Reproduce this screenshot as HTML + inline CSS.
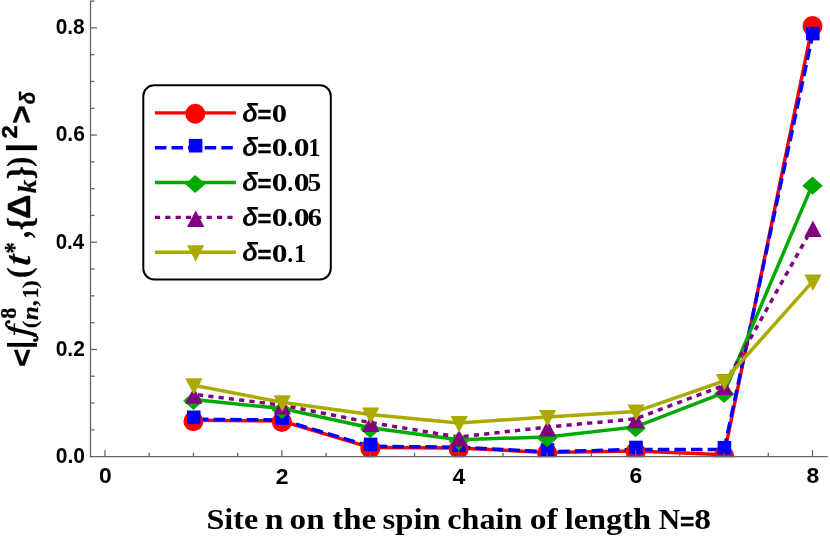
<!DOCTYPE html>
<html><head><meta charset="utf-8"><title>chart</title>
<style>
html,body{margin:0;padding:0;background:#fff;}
body{width:830px;height:542px;overflow:hidden;}
svg{display:block;will-change:transform;}
text{font-kerning:none;}
.sans{font-family:"Liberation Sans",sans-serif;font-weight:bold;}
.sansi{font-family:"Liberation Sans",sans-serif;font-weight:bold;font-style:italic;}
.serif{font-family:"Liberation Serif",serif;font-weight:bold;}
.si{font-family:"Liberation Serif",serif;font-weight:bold;font-style:italic;}
</style></head><body>
<svg width="830" height="542" viewBox="0 0 830 542">
<rect width="830" height="542" fill="#ffffff"/>
<defs><clipPath id="pc"><rect x="80" y="0" width="750" height="457.3"/></clipPath></defs>

<g clip-path="url(#pc)">
<polyline points="193.44,420.30 281.88,421.00 370.32,447.60 458.76,448.10 547.20,452.40 635.64,451.00 724.08,454.80 812.52,25.20" fill="none" stroke="#ff0000" stroke-width="3.5" stroke-linejoin="miter"/>
<polyline points="193.44,419.20 281.88,420.00 370.32,446.30 458.76,447.20 547.20,451.90 635.64,449.40 724.08,449.60 812.52,35.50" fill="none" stroke="#0000ff" stroke-width="3.5" stroke-linejoin="miter" stroke-dasharray="11.5 5.1" stroke-dashoffset="13.05"/>
<polyline points="193.44,399.50 281.88,408.60 370.32,427.80 458.76,439.80 547.20,436.90 635.64,426.90 724.08,392.60 812.52,184.40" fill="none" stroke="#00aa00" stroke-width="3.5" stroke-linejoin="miter"/>
<polyline points="193.44,394.30 281.88,405.10 370.32,422.60 458.76,437.00 547.20,427.10 635.64,418.80 724.08,385.40 812.52,227.50" fill="none" stroke="#800080" stroke-width="3.5" stroke-linejoin="miter" stroke-dasharray="5.2 5.15" stroke-dashoffset="5.75"/>
<polyline points="193.44,385.20 281.88,402.30 370.32,414.50 458.76,423.10 547.20,417.00 635.64,411.60 724.08,381.00 812.52,281.60" fill="none" stroke="#aaaa00" stroke-width="3.5" stroke-linejoin="miter"/>
<circle cx="193.44" cy="421.20" r="10.0" fill="#ff0000"/>
<circle cx="281.88" cy="421.90" r="10.0" fill="#ff0000"/>
<circle cx="370.32" cy="448.50" r="10.0" fill="#ff0000"/>
<circle cx="458.76" cy="449.00" r="10.0" fill="#ff0000"/>
<circle cx="547.20" cy="453.30" r="10.0" fill="#ff0000"/>
<circle cx="635.64" cy="451.90" r="10.0" fill="#ff0000"/>
<circle cx="724.08" cy="455.70" r="10.0" fill="#ff0000"/>
<circle cx="812.52" cy="26.10" r="10.0" fill="#ff0000"/>
<rect x="186.94" y="410.50" width="13.6" height="13.6" fill="#0000ff"/>
<rect x="275.38" y="411.30" width="13.6" height="13.6" fill="#0000ff"/>
<rect x="363.82" y="437.60" width="13.6" height="13.6" fill="#0000ff"/>
<rect x="452.26" y="438.50" width="13.6" height="13.6" fill="#0000ff"/>
<rect x="540.70" y="443.20" width="13.6" height="13.6" fill="#0000ff"/>
<rect x="629.14" y="440.70" width="13.6" height="13.6" fill="#0000ff"/>
<rect x="717.58" y="440.90" width="13.6" height="13.6" fill="#0000ff"/>
<rect x="806.02" y="26.80" width="13.6" height="13.6" fill="#0000ff"/>
<polygon points="183.19,400.80 193.44,391.70 203.69,400.80 193.44,409.90" fill="#00aa00"/>
<polygon points="271.63,409.90 281.88,400.80 292.13,409.90 281.88,419.00" fill="#00aa00"/>
<polygon points="360.07,429.10 370.32,420.00 380.57,429.10 370.32,438.20" fill="#00aa00"/>
<polygon points="448.51,441.10 458.76,432.00 469.01,441.10 458.76,450.20" fill="#00aa00"/>
<polygon points="536.95,438.20 547.20,429.10 557.45,438.20 547.20,447.30" fill="#00aa00"/>
<polygon points="625.39,428.20 635.64,419.10 645.89,428.20 635.64,437.30" fill="#00aa00"/>
<polygon points="713.83,393.90 724.08,384.80 734.33,393.90 724.08,403.00" fill="#00aa00"/>
<polygon points="802.27,185.70 812.52,176.60 822.77,185.70 812.52,194.80" fill="#00aa00"/>
<polygon points="185.19,403.80 193.84,387.30 202.49,403.80" fill="#800080"/>
<polygon points="273.63,414.60 282.28,398.10 290.93,414.60" fill="#800080"/>
<polygon points="362.07,432.10 370.72,415.60 379.37,432.10" fill="#800080"/>
<polygon points="450.51,446.50 459.16,430.00 467.81,446.50" fill="#800080"/>
<polygon points="538.95,436.60 547.60,420.10 556.25,436.60" fill="#800080"/>
<polygon points="627.39,428.30 636.04,411.80 644.69,428.30" fill="#800080"/>
<polygon points="715.83,394.90 724.48,378.40 733.13,394.90" fill="#800080"/>
<polygon points="804.27,237.00 812.92,220.50 821.57,237.00" fill="#800080"/>
<polygon points="185.19,378.20 193.84,394.70 202.49,378.20" fill="#aaaa00"/>
<polygon points="273.63,395.30 282.28,411.80 290.93,395.30" fill="#aaaa00"/>
<polygon points="362.07,407.50 370.72,424.00 379.37,407.50" fill="#aaaa00"/>
<polygon points="450.51,416.10 459.16,432.60 467.81,416.10" fill="#aaaa00"/>
<polygon points="538.95,410.00 547.60,426.50 556.25,410.00" fill="#aaaa00"/>
<polygon points="627.39,404.60 636.04,421.10 644.69,404.60" fill="#aaaa00"/>
<polygon points="715.83,374.00 724.48,390.50 733.13,374.00" fill="#aaaa00"/>
<polygon points="804.27,274.60 812.92,291.10 821.57,274.60" fill="#aaaa00"/>
</g>
<g stroke="#666666" stroke-width="1.3" fill="none">
<line x1="90.5" y1="0.8" x2="90.5" y2="457.25"/>
<line x1="89.9" y1="456.65" x2="827.8" y2="456.65"/>
<line x1="105.00" y1="456.65" x2="105.00" y2="450.15"/>
<line x1="149.22" y1="456.65" x2="149.22" y2="452.75"/>
<line x1="193.44" y1="456.65" x2="193.44" y2="452.75"/>
<line x1="237.66" y1="456.65" x2="237.66" y2="452.75"/>
<line x1="281.88" y1="456.65" x2="281.88" y2="450.15"/>
<line x1="326.10" y1="456.65" x2="326.10" y2="452.75"/>
<line x1="370.32" y1="456.65" x2="370.32" y2="452.75"/>
<line x1="414.54" y1="456.65" x2="414.54" y2="452.75"/>
<line x1="458.76" y1="456.65" x2="458.76" y2="450.15"/>
<line x1="502.98" y1="456.65" x2="502.98" y2="452.75"/>
<line x1="547.20" y1="456.65" x2="547.20" y2="452.75"/>
<line x1="591.42" y1="456.65" x2="591.42" y2="452.75"/>
<line x1="635.64" y1="456.65" x2="635.64" y2="450.15"/>
<line x1="679.86" y1="456.65" x2="679.86" y2="452.75"/>
<line x1="724.08" y1="456.65" x2="724.08" y2="452.75"/>
<line x1="768.30" y1="456.65" x2="768.30" y2="452.75"/>
<line x1="812.52" y1="456.65" x2="812.52" y2="450.15"/>
<line x1="90.5" y1="429.85" x2="94.5" y2="429.85"/>
<line x1="90.5" y1="403.05" x2="94.5" y2="403.05"/>
<line x1="90.5" y1="376.25" x2="94.5" y2="376.25"/>
<line x1="90.5" y1="349.45" x2="96.9" y2="349.45"/>
<line x1="90.5" y1="322.65" x2="94.5" y2="322.65"/>
<line x1="90.5" y1="295.85" x2="94.5" y2="295.85"/>
<line x1="90.5" y1="269.05" x2="94.5" y2="269.05"/>
<line x1="90.5" y1="242.25" x2="96.9" y2="242.25"/>
<line x1="90.5" y1="215.45" x2="94.5" y2="215.45"/>
<line x1="90.5" y1="188.65" x2="94.5" y2="188.65"/>
<line x1="90.5" y1="161.85" x2="94.5" y2="161.85"/>
<line x1="90.5" y1="135.05" x2="96.9" y2="135.05"/>
<line x1="90.5" y1="108.25" x2="94.5" y2="108.25"/>
<line x1="90.5" y1="81.45" x2="94.5" y2="81.45"/>
<line x1="90.5" y1="54.65" x2="94.5" y2="54.65"/>
<line x1="90.5" y1="27.85" x2="96.9" y2="27.85"/>
<line x1="90.5" y1="1.05" x2="94.5" y2="1.05"/>
</g>
<g fill="#000">
<text class="sans" font-size="100" transform="translate(98.95,483.39) scale(0.2290,0.2189)">0</text>
<text class="sans" font-size="100" transform="translate(275.87,483.60) scale(0.2290,0.2220)">2</text>
<text class="sans" font-size="100" transform="translate(452.58,483.60) scale(0.2290,0.2253)">4</text>
<text class="sans" font-size="100" transform="translate(629.57,483.39) scale(0.2290,0.2189)">6</text>
<text class="sans" font-size="100" transform="translate(806.44,483.39) scale(0.2290,0.2189)">8</text>
<text class="sans" font-size="100" transform="translate(55.67,462.99) scale(0.2108,0.2196)">0.0</text>
<text class="sans" font-size="100" transform="translate(55.67,355.79) scale(0.2106,0.2196)">0.2</text>
<text class="sans" font-size="100" transform="translate(55.69,248.59) scale(0.2052,0.2196)">0.4</text>
<text class="sans" font-size="100" transform="translate(55.67,141.39) scale(0.2100,0.2196)">0.6</text>
<text class="sans" font-size="100" transform="translate(55.67,34.19) scale(0.2091,0.2196)">0.8</text>
</g>
<text class="serif" font-size="100" transform="translate(206.49,528.60) scale(0.3206,0.3040)">Site</text>
<text class="serif" font-size="100" transform="translate(264.79,528.60) scale(0.3384,0.3040)">n</text>
<text class="serif" font-size="100" transform="translate(289.54,528.60) scale(0.3320,0.3040)">on</text>
<text class="serif" font-size="100" transform="translate(332.27,528.60) scale(0.3300,0.3040)">the</text>
<text class="serif" font-size="100" transform="translate(382.51,528.60) scale(0.3270,0.3040)">spin</text>
<text class="serif" font-size="100" transform="translate(447.30,528.60) scale(0.3217,0.3040)">chain</text>
<text class="serif" font-size="100" transform="translate(529.82,528.60) scale(0.3355,0.3040)">of</text>
<text class="serif" font-size="100" transform="translate(564.67,528.60) scale(0.3244,0.3040)">length</text>
<text class="serif" font-size="100" transform="translate(658.64,528.60) scale(0.2957,0.3040)">N</text>
<text class="serif" font-size="100" transform="translate(694.19,528.60) scale(0.3344,0.3040)">8</text>
<text class="sans" font-size="100" transform="translate(679.98,529.86) scale(0.2453,0.2434)" stroke="#000" stroke-width="1.2" stroke-linejoin="round">=</text>
<rect x="143.3" y="85.3" width="187.5" height="194.1" rx="10.8" ry="10.8" fill="#fff" stroke="#000" stroke-width="2.0"/>
<line x1="154.9" y1="112.9" x2="235.9" y2="112.9" stroke="#ff0000" stroke-width="3.4"/>
<circle cx="195.30" cy="113.80" r="10.0" fill="#ff0000"/>
<text class="sansi" font-size="100" transform="translate(242.20,121.96) scale(0.2598,0.2589)">δ</text>
<text class="sans" font-size="100" transform="translate(257.61,123.25) scale(0.2393,0.2355)" stroke="#000" stroke-width="1.5" stroke-linejoin="round">=</text>
<text class="serif" font-size="100" transform="translate(271.73,122.00) scale(0.3067,0.2520)">0</text>
<line x1="154.9" y1="147.7" x2="235.9" y2="147.7" stroke="#0000ff" stroke-width="3.4" stroke-dasharray="11.5 5.1"/>
<rect x="188.80" y="138.90" width="13.6" height="13.6" fill="#0000ff"/>
<text class="sansi" font-size="100" transform="translate(242.20,155.96) scale(0.2598,0.2589)">δ</text>
<text class="sans" font-size="100" transform="translate(257.61,157.25) scale(0.2393,0.2355)" stroke="#000" stroke-width="1.5" stroke-linejoin="round">=</text>
<text class="serif" font-size="100" transform="translate(271.70,156.00) scale(0.3162,0.2520)">0</text>
<text class="serif" font-size="100" transform="translate(287.37,156.00) scale(0.2344,0.2520)">.</text>
<text class="serif" font-size="100" transform="translate(293.70,156.00) scale(0.3162,0.2520)">0</text>
<text class="serif" font-size="100" transform="translate(308.14,156.00) scale(0.2445,0.2520)">1</text>
<line x1="154.9" y1="182.5" x2="235.9" y2="182.5" stroke="#00aa00" stroke-width="3.4"/>
<polygon points="185.05,184.00 195.30,174.90 205.55,184.00 195.30,193.10" fill="#00aa00"/>
<text class="sansi" font-size="100" transform="translate(242.20,190.96) scale(0.2598,0.2589)">δ</text>
<text class="sans" font-size="100" transform="translate(257.61,192.25) scale(0.2393,0.2355)" stroke="#000" stroke-width="1.5" stroke-linejoin="round">=</text>
<text class="serif" font-size="100" transform="translate(271.70,191.00) scale(0.3162,0.2520)">0</text>
<text class="serif" font-size="100" transform="translate(287.37,191.00) scale(0.2344,0.2520)">.</text>
<text class="serif" font-size="100" transform="translate(293.70,191.00) scale(0.3162,0.2520)">0</text>
<text class="serif" font-size="100" transform="translate(307.50,191.00) scale(0.2740,0.2520)">5</text>
<line x1="154.9" y1="217.4" x2="235.9" y2="217.4" stroke="#800080" stroke-width="3.4" stroke-dasharray="5.2 5.15"/>
<polygon points="187.05,226.90 195.70,210.40 204.35,226.90" fill="#800080"/>
<text class="sansi" font-size="100" transform="translate(242.20,225.56) scale(0.2598,0.2589)">δ</text>
<text class="sans" font-size="100" transform="translate(257.61,226.85) scale(0.2393,0.2355)" stroke="#000" stroke-width="1.5" stroke-linejoin="round">=</text>
<text class="serif" font-size="100" transform="translate(271.70,225.60) scale(0.3162,0.2520)">0</text>
<text class="serif" font-size="100" transform="translate(287.37,225.60) scale(0.2344,0.2520)">.</text>
<text class="serif" font-size="100" transform="translate(293.70,225.60) scale(0.3162,0.2520)">0</text>
<text class="serif" font-size="100" transform="translate(307.41,225.60) scale(0.2886,0.2520)">6</text>
<line x1="154.9" y1="252.2" x2="235.9" y2="252.2" stroke="#aaaa00" stroke-width="3.4"/>
<polygon points="187.05,245.20 195.70,261.70 204.35,245.20" fill="#aaaa00"/>
<text class="sansi" font-size="100" transform="translate(242.20,261.46) scale(0.2598,0.2589)">δ</text>
<text class="sans" font-size="100" transform="translate(257.61,262.75) scale(0.2393,0.2355)" stroke="#000" stroke-width="1.5" stroke-linejoin="round">=</text>
<text class="serif" font-size="100" transform="translate(271.70,261.50) scale(0.3162,0.2520)">0</text>
<text class="serif" font-size="100" transform="translate(287.37,261.50) scale(0.2344,0.2520)">.</text>
<text class="serif" font-size="100" transform="translate(294.04,261.50) scale(0.2445,0.2520)">1</text>
<g transform="translate(30,366) rotate(-90)" fill="#000">
<text class="sans" font-size="100" transform="translate(-0.80,1.82) scale(0.3091,0.2987)" stroke="#000" stroke-width="1.5" stroke-linejoin="round">&lt;</text>
<text class="sans" font-size="100" transform="translate(16.94,-0.35) scale(0.2970,0.3126)">|</text>
<text class="serif" font-size="100" transform="translate(47.26,-14.22) scale(0.2214,0.2267)" stroke="#000" stroke-width="1.0" stroke-linejoin="round">8</text>
<text class="serif" font-size="100" transform="translate(37.69,7.13) scale(0.2297,0.2195)">(</text>
<text class="si" font-size="100" transform="translate(45.68,7.50) scale(0.2527,0.2398)" stroke="#000" stroke-width="0.8" stroke-linejoin="round">n</text>
<text class="serif" font-size="100" transform="translate(59.77,7.35) scale(0.2466,0.2485)">,</text>
<text class="serif" font-size="100" transform="translate(67.44,7.50) scale(0.2200,0.2363)" stroke="#000" stroke-width="0.8" stroke-linejoin="round">1</text>
<text class="serif" font-size="100" transform="translate(77.48,7.13) scale(0.2531,0.2195)">)</text>
<text class="serif" font-size="100" transform="translate(87.65,-0.12) scale(0.3310,0.3298)">(</text>
<text class="si" font-size="100" transform="translate(99.85,0.14) scale(0.3747,0.3736) skewX(-6)">t</text>
<text class="serif" font-size="100" transform="translate(112.46,-6.77) scale(0.2254,0.2626)" stroke="#000" stroke-width="1" stroke-linejoin="round">*</text>
<text class="serif" font-size="100" transform="translate(128.03,-0.50) scale(0.2818,0.3877)">,</text>
<text class="serif" font-size="100" transform="translate(135.83,1.86) scale(0.3315,0.3540)" stroke="#000" stroke-width="1" stroke-linejoin="round">{</text>
<text class="sans" font-size="100" transform="translate(147.25,-0.30) scale(0.3343,0.3169)" stroke="#000" stroke-width="1.5" stroke-linejoin="round">Δ</text>
<text class="si" font-size="100" transform="translate(172.83,5.90) scale(0.2717,0.2580)" stroke="#000" stroke-width="1" stroke-linejoin="round">k</text>
<text class="serif" font-size="100" transform="translate(186.70,1.86) scale(0.3315,0.3540)" stroke="#000" stroke-width="1" stroke-linejoin="round">}</text>
<text class="serif" font-size="100" transform="translate(199.00,-0.12) scale(0.3115,0.3298)">)</text>
<text class="sans" font-size="100" transform="translate(212.94,0.25) scale(0.3752,0.3264)">|</text>
<text class="sans" font-size="100" transform="translate(227.58,-13.10) scale(0.2368,0.2291)" stroke="#000" stroke-width="2" stroke-linejoin="round">2</text>
<text class="sans" font-size="100" transform="translate(242.48,2.07) scale(0.3151,0.3061)" stroke="#000" stroke-width="1.5" stroke-linejoin="round">&gt;</text>
<text class="sansi" font-size="100" transform="translate(261.84,5.39) scale(0.2069,0.2248)" stroke="#000" stroke-width="1.5" stroke-linejoin="round">δ</text>
</g>
<g fill="none" stroke="#000" stroke-linecap="round" stroke-linejoin="round">
<path d="M8.6,321.6 C6.6,321.6 5.4,323.6 6.3,325.3 C7.4,327.3 10,328.3 14,329.5 L30,333.3 C34,334.3 37.3,335.8 37.5,338.2 C37.6,340.1 36.2,341.0 34.9,340.3" stroke-width="2.0"/>
<path d="M9.5,327.9 C11,328.7 12.5,329.1 14,329.5 L30,333.3 C32,333.8 33.8,334.4 35.2,335.2" stroke-width="3.7"/>
<path d="M14.4,323.4 L14.4,334.9" stroke-width="1.5" stroke-linecap="butt"/>
</g>
<circle cx="8.6" cy="321.7" r="1.8" fill="#000"/><circle cx="34.7" cy="340.2" r="1.7" fill="#000"/>
</svg></body></html>
